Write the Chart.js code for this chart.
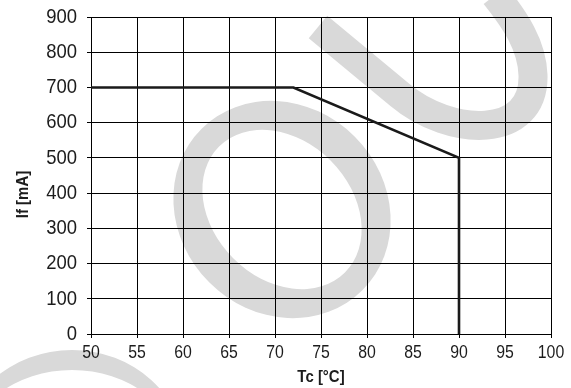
<!DOCTYPE html>
<html>
<head>
<meta charset="utf-8">
<script src="https://cdn.jsdelivr.net/npm/chart.js@4"></script>
<style>
  html, body { margin: 0; padding: 0; background: #ffffff; }
  canvas { display: block; }
</style>
</head>
<body>
<canvas id="derating" width="571" height="388"></canvas>
<script>
// Derating curve: forward current vs. case temperature
const tempC = [50, 72, 90, 90];
const currentMA = [700, 700, 500, 0];

const xMin = 50, xMax = 100, xStep = 5;
const yMin = 0, yMax = 900, yStep = 100;

const xTitle = 'Tc [°C]';
const yTitle = 'If [mA]';

const face = '"Liberation Sans", Arial, Helvetica, sans-serif';
const textScaleX = 0.88;          // condensed lettering
const ink = '#1c1c1c';
const shade = '#d9d9d9';

// Light-grey watermark lettering behind the grid (canvas pixels)
const watermark = {
  ringO: { cx: 282, cy: 209.5, outer: [114, 103], inner: [89, 69], rot: Math.PI / 4 },
  ringLow: { cx: 72, cy: 452, outer: [112, 102], inner: [104, 82] },
  hook: { width: 29, start: [318, 27], line: [400, 95],
          c1: [[450, 137], [535, 140], [533, 75]],
          c2: [[532, 45], [515, 20], [495, -5]] }
};

// Draw every text run horizontally condensed around its anchor point
const condense = {
  id: 'condense',
  beforeInit(chart) {
    const ctx = chart.ctx;
    const base = ctx.fillText;
    ctx.fillText = function (text, x, y, maxWidth) {
      this.save();
      this.translate(x, y);
      this.scale(textScaleX, 1);
      if (maxWidth === undefined || maxWidth === null) base.call(this, text, 0, 0);
      else base.call(this, text, 0, 0, maxWidth / textScaleX);
      this.restore();
    };
  }
};

const backdrop = {
  id: 'backdrop',
  beforeDraw(chart) {
    const ctx = chart.ctx;
    ctx.save();
    ctx.fillStyle = '#ffffff';
    ctx.fillRect(0, 0, chart.width, chart.height);
    ctx.fillStyle = shade;
    ctx.strokeStyle = shade;

    const o = watermark.ringO;
    ctx.beginPath();
    ctx.ellipse(o.cx, o.cy, o.outer[0], o.outer[1], o.rot, 0, Math.PI * 2);
    ctx.ellipse(o.cx, o.cy, o.inner[0], o.inner[1], o.rot, 0, Math.PI * 2);
    ctx.fill('evenodd');

    const l = watermark.ringLow;
    ctx.beginPath();
    ctx.ellipse(l.cx, l.cy, l.outer[0], l.outer[1], 0, 0, Math.PI * 2);
    ctx.ellipse(l.cx, l.cy, l.inner[0], l.inner[1], 0, 0, Math.PI * 2);
    ctx.fill('evenodd');

    const h = watermark.hook;
    ctx.lineWidth = h.width;
    ctx.lineCap = 'butt';
    ctx.lineJoin = 'round';
    ctx.beginPath();
    ctx.moveTo(h.start[0], h.start[1]);
    ctx.lineTo(h.line[0], h.line[1]);
    ctx.bezierCurveTo(h.c1[0][0], h.c1[0][1], h.c1[1][0], h.c1[1][1], h.c1[2][0], h.c1[2][1]);
    ctx.bezierCurveTo(h.c2[0][0], h.c2[0][1], h.c2[1][0], h.c2[1][1], h.c2[2][0], h.c2[2][1]);
    ctx.stroke();
    ctx.restore();
  },
  afterDraw(chart) {
    // vertical axis title, set slightly below the middle of the plot
    const a = chart.chartArea;
    const ctx = chart.ctx;
    ctx.save();
    ctx.translate(23.5, a.top + (a.bottom - a.top) * 0.56);
    ctx.rotate(-Math.PI / 2);
    ctx.font = 'bold 17px ' + face;
    ctx.fillStyle = ink;
    ctx.textAlign = 'center';
    ctx.textBaseline = 'middle';
    ctx.fillText(yTitle, 0, 0);
    ctx.restore();
  }
};

new Chart(document.getElementById('derating'), {
  type: 'scatter',
  data: {
    datasets: [{
      data: tempC.map((t, i) => ({ x: t, y: currentMA[i] })),
      showLine: true,
      borderColor: '#1a1a1a',
      borderWidth: 2.6,
      pointRadius: 0,
      tension: 0
    }]
  },
  options: {
    responsive: false,
    animation: false,
    layout: { padding: { top: 17, right: 20, left: 0, bottom: 0 } },
    plugins: { legend: { display: false }, tooltip: { enabled: false } },
    scales: {
      x: {
        type: 'linear',
        min: xMin, max: xMax,
        afterFit(s) { s.height = 54; s.paddingLeft = 0; s.paddingRight = 0; },
        ticks: { stepSize: xStep, color: ink, padding: 4, font: { family: face, size: 18 } },
        grid: { color: '#000', lineWidth: 1, tickLength: 4 },
        border: { color: '#000', width: 1 },
        title: { display: true, text: xTitle, color: ink, padding: { top: 0, bottom: 0 },
                 font: { family: face, size: 17, weight: 'bold' } }
      },
      y: {
        min: yMin, max: yMax,
        afterFit(s) { s.width = 91; s.paddingTop = 0; s.paddingBottom = 0; },
        ticks: { stepSize: yStep, color: ink, padding: 10, font: { family: face, size: 21 } },
        grid: { color: '#000', lineWidth: 1, tickLength: 4 },
        border: { color: '#000', width: 1 }
      }
    }
  },
  plugins: [condense, backdrop]
});
</script>
</body>
</html>
